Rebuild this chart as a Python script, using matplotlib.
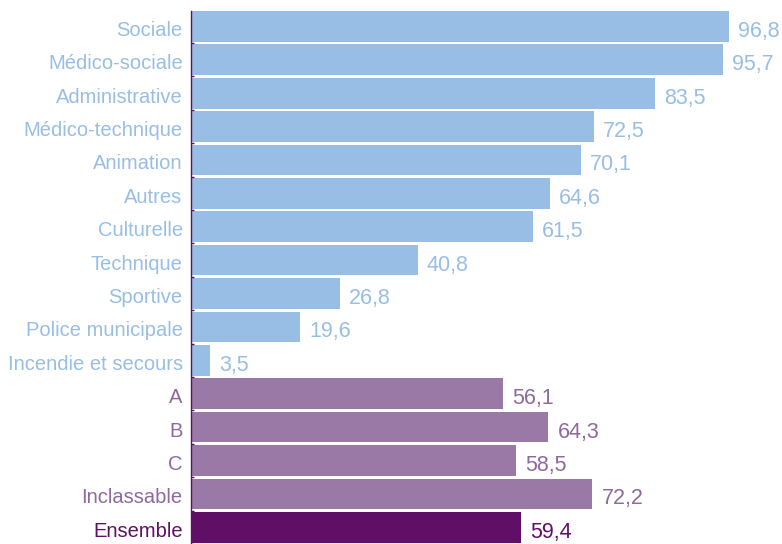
import matplotlib
matplotlib.use("Agg")
import matplotlib.pyplot as plt
import numpy as np

categories = ["Sociale", "Médico-sociale", "Administrative", "Médico-technique",
              "Animation", "Autres", "Culturelle", "Technique", "Sportive",
              "Police municipale", "Incendie et secours", "A", "B", "C",
              "Inclassable", "Ensemble"]
values = [96.8, 95.7, 83.5, 72.5, 70.1, 64.6, 61.5, 40.8, 26.8, 19.6, 3.5,
          56.1, 64.3, 58.5, 72.2, 59.4]
groups = ["filiere"] * 11 + ["categorie"] * 4 + ["ensemble"]

bar_colors = {"filiere": "#98BEE5", "categorie": "#9B79A6", "ensemble": "#600F66"}
text_colors = {"filiere": "#98BEE5", "categorie": "#8E6A9C", "ensemble": "#600F66"}

plt.rcParams['font.family'] = ['Liberation Sans', 'DejaVu Sans']

fig = plt.figure(figsize=(7.82, 5.44), dpi=100)
ax = fig.add_axes([191 / 782, 0, (782 - 191) / 782, 533 / 544])

y = np.arange(len(categories))
ax.barh(y, values, height=0.92, color=[bar_colors[g] for g in groups])

for yi, v, g in zip(y, values, groups):
    ax.annotate(f"{v:.1f}".replace(".", ","), (v, yi), xytext=(6.5, -7.5),
                textcoords="offset points", va="baseline", ha="left",
                fontsize=15.5, color=text_colors[g], annotation_clip=False)

for yi, cat, g in zip(y, categories, groups):
    ax.annotate(cat, (0, yi), xytext=(-6, -6.8), textcoords="offset points",
                va="baseline", ha="right", fontsize=14.5, color=text_colors[g],
                annotation_clip=False)

ax.set_ylim(15.37, -0.46)
ax.set_xlim(0, 106.3)
ax.set_yticks(np.arange(len(categories)) + 0.5)
ax.set_yticklabels([])
ax.tick_params(axis='y', which='major', length=2, width=1, color="#600F66",
               direction='in')
ax.set_xticks([])
for s in ["top", "right", "bottom"]:
    ax.spines[s].set_visible(False)
ax.spines["left"].set_color("#600F66")
ax.spines["left"].set_linewidth(1)

fig.savefig("out.png", dpi=100)
